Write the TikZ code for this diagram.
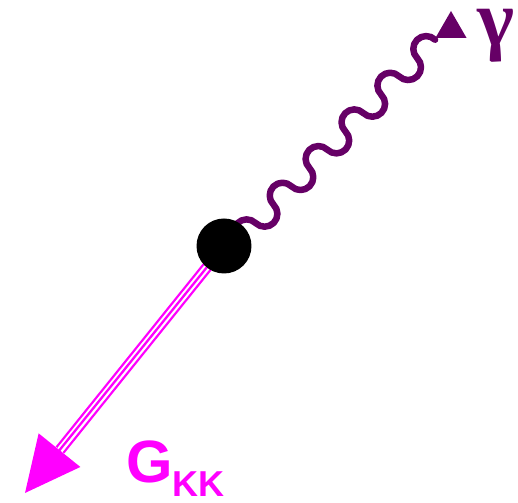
\documentclass[tikz,border=0pt]{standalone}
\usepackage{fontspec}
\setmainfont{Liberation Serif}
\setsansfont{Liberation Sans}
\usetikzlibrary{arrows.meta,shapes.geometric}
\definecolor{photonpurple}{RGB}{102,0,102}
\definecolor{kkmagenta}{RGB}{255,0,255}

\begin{document}
\begin{tikzpicture}[x=0.02cm, y=0.02cm,
    vtx/.style={circle, fill=black, minimum size=1.1cm, inner sep=0pt},
    photon/.style={photonpurple, line width=0.13cm, line cap=round, line join=round},
    phhead/.style={regular polygon, regular polygon sides=3, fill=photonpurple, minimum size=0.72cm, inner sep=0pt},
    grav/.style={kkmagenta, line width=0.046cm, double=white, double distance=0.13cm},
    ghead/.style={kkmagenta, line width=0.046cm, -{Triangle[length=1.1cm, width=1.06cm]}},
    lbl/.style={inner sep=0pt}
]
\useasboundingbox (0,0) rectangle (518,503);
\coordinate (vc) at (224,257);
\coordinate (phstart) at (219.7,243.3);
\coordinate (gbase) at (60,53);
\coordinate (gtip) at (25,10);

% photon leg: half circles along the diagonal
\draw[photon, rotate=45.6] (phstart)
    \foreach \i in {1,...,6} {
        arc[start angle=180, end angle=360, radius=0.2566cm]
        arc[start angle=180, end angle=0, radius=0.2566cm]
    } coordinate (phend);
\node[phhead] (ph) at (451,474) {};
\node[lbl, photonpurple, font=\bfseries\fontsize{45}{45}\selectfont] (gam) at (496,467) {γ};

% KK graviton leg
\draw[grav] (vc) -- (gbase);
\draw[ghead] (vc) -- (gtip);
\node[lbl, kkmagenta, anchor=base west, font=\sffamily\bfseries\fontsize{34}{34}\selectfont] (gkk) at (126,20)
    {G\raisebox{-0.28cm}{\fontsize{20.5}{21}\selectfont KK}};

% vertex
\node[vtx] (v) at (vc) {};
\end{tikzpicture}
\end{document}
